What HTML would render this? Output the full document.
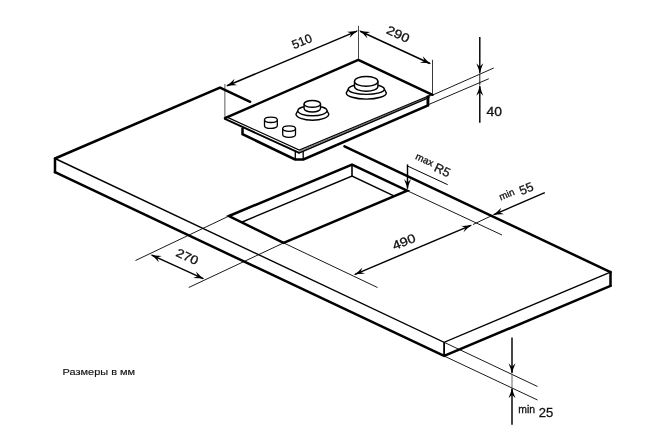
<!DOCTYPE html>
<html lang="ru">
<head>
<meta charset="utf-8">
<title>Размеры в мм</title>
<style>
html,body{margin:0;padding:0;background:#fff;}
body{width:666px;height:444px;overflow:hidden;}
svg{display:block;filter:grayscale(1);}
svg text{font-family:"Liberation Sans",sans-serif;fill:#111;stroke:#111;stroke-width:0.3px;}
svg text.cap{stroke-width:0.15px;}
</style>
</head>
<body>
<svg role="img" aria-label="Размеры в мм" width="666" height="444" viewBox="0 0 666 444">
<rect x="0" y="0" width="666" height="444" fill="#fff"/>
<!-- countertop -->
<line x1="224.80" y1="84.00" x2="224.80" y2="117.00" stroke="#999" stroke-width="1.6" stroke-linecap="butt"/>
<path d="M55.00,158.50 L220.00,87.50 L250.20,101.80" fill="none" stroke="#000" stroke-width="2.5" stroke-linejoin="miter" stroke-linecap="round"/>
<path d="M344.50,146.40 L610.50,272.10" fill="none" stroke="#000" stroke-width="2.5" stroke-linejoin="miter" stroke-linecap="round"/>
<path d="M55.00,158.50 L55.00,172.20" fill="none" stroke="#000" stroke-width="2.5" stroke-linejoin="miter" stroke-linecap="round"/>
<path d="M610.50,272.10 L610.50,285.80" fill="none" stroke="#000" stroke-width="2.5" stroke-linejoin="miter" stroke-linecap="round"/>
<path d="M55.00,172.20 L444.10,356.00 L610.50,285.80" fill="none" stroke="#000" stroke-width="2.5" stroke-linejoin="miter" stroke-linecap="round"/>
<path d="M55.00,158.50 L444.10,342.30 L610.50,272.10" fill="none" stroke="#000" stroke-width="1.4" stroke-linejoin="miter" stroke-linecap="butt"/>
<line x1="444.10" y1="342.30" x2="444.10" y2="356.00" stroke="#000" stroke-width="1.8" stroke-linecap="butt"/>
<!-- cutout -->
<path d="M229.00,216.00 L352.00,164.50 L407.20,190.70 L283.60,242.90 Z" fill="none" stroke="#000" stroke-width="2.5" stroke-linejoin="miter" stroke-linecap="butt"/>
<path d="M241.62,222.22 L352.00,176.00 L394.38,196.11" fill="none" stroke="#000" stroke-width="1.5" stroke-linejoin="miter" stroke-linecap="butt"/>
<line x1="352.00" y1="164.50" x2="352.00" y2="176.00" stroke="#000" stroke-width="1.6" stroke-linecap="butt"/>
<!-- dimensions on countertop -->
<line x1="229.00" y1="216.00" x2="135.50" y2="260.50" stroke="#000" stroke-width="0.9" stroke-linecap="butt"/>
<line x1="283.60" y1="242.90" x2="188.75" y2="287.50" stroke="#000" stroke-width="0.9" stroke-linecap="butt"/>
<line x1="283.60" y1="242.90" x2="377.50" y2="287.50" stroke="#000" stroke-width="0.9" stroke-linecap="butt"/>
<line x1="407.20" y1="190.70" x2="502.00" y2="235.00" stroke="#000" stroke-width="0.9" stroke-linecap="butt"/>
<line x1="151.76" y1="255.12" x2="203.24" y2="278.68" stroke="#000" stroke-width="1.45" stroke-linecap="butt"/>
<path d="M0,0 Q-4.95,-0.70 -11.00,-3.50 L-7.50,0 L-11.00,3.50 Q-4.95,0.70 0,0 Z" fill="#000" stroke="none" transform="translate(150.40 254.50) rotate(-155.41)"/>
<path d="M0,0 Q-4.95,-0.70 -11.00,-3.50 L-7.50,0 L-11.00,3.50 Q-4.95,0.70 0,0 Z" fill="#000" stroke="none" transform="translate(204.60 279.30) rotate(24.59)"/>
<text font-size="12.3" text-anchor="middle" transform="translate(185.50 260.50) rotate(24.5) scale(1.13 1)">270</text>
<line x1="354.98" y1="274.32" x2="470.92" y2="225.38" stroke="#000" stroke-width="1.45" stroke-linecap="butt"/>
<path d="M0,0 Q-4.95,-0.70 -11.00,-3.50 L-7.50,0 L-11.00,3.50 Q-4.95,0.70 0,0 Z" fill="#000" stroke="none" transform="translate(353.60 274.90) rotate(157.12)"/>
<path d="M0,0 Q-4.95,-0.70 -11.00,-3.50 L-7.50,0 L-11.00,3.50 Q-4.95,0.70 0,0 Z" fill="#000" stroke="none" transform="translate(472.30 224.80) rotate(-22.88)"/>
<text font-size="12.3" text-anchor="middle" transform="translate(405.50 245.70) rotate(-22.5) scale(1.17 1)">490</text>
<line x1="544.80" y1="192.60" x2="493.88" y2="214.70" stroke="#000" stroke-width="1.45" stroke-linecap="butt"/>
<path d="M0,0 Q-4.95,-0.70 -11.00,-3.50 L-7.50,0 L-11.00,3.50 Q-4.95,0.70 0,0 Z" fill="#000" stroke="none" transform="translate(492.50 215.30) rotate(156.99)"/>
<line x1="492.50" y1="215.30" x2="473.00" y2="224.50" stroke="#000" stroke-width="0.9" stroke-linecap="butt"/>
<line x1="407.50" y1="164.40" x2="407.50" y2="188.50" stroke="#000" stroke-width="1.45" stroke-linecap="butt"/>
<path d="M0,0 Q-4.95,-0.70 -11.00,-3.50 L-7.50,0 L-11.00,3.50 Q-4.95,0.70 0,0 Z" fill="#000" stroke="none" transform="translate(407.50 190.00) rotate(90.00)"/>
<line x1="407.50" y1="166.00" x2="447.70" y2="184.70" stroke="#000" stroke-width="1.0" stroke-linecap="butt"/>
<!-- hob -->
<path d="M242.50,128.00 L242.50,134.20 L295.00,159.50 L303.40,159.50 L428.00,105.40 L428.00,96.00" fill="none" stroke="#000" stroke-width="2.5" stroke-linejoin="miter" stroke-linecap="butt"/>
<line x1="295.30" y1="151.30" x2="295.30" y2="159.00" stroke="#000" stroke-width="1.3" stroke-linecap="butt"/>
<line x1="303.20" y1="151.30" x2="303.20" y2="159.00" stroke="#000" stroke-width="1.3" stroke-linecap="butt"/>
<path d="M225.00,118.20 L358.30,59.80 L432.50,94.80 L299.30,152.90 Z" fill="#fff" stroke="#000" stroke-width="0" stroke-linejoin="miter" stroke-linecap="butt"/>
<path d="M224.40,118.60 L299.20,152.90" fill="none" stroke="#000" stroke-width="1.9" stroke-linejoin="miter" stroke-linecap="butt"/>
<path d="M298.50,152.60 L299.20,152.90 L429.50,97.40" fill="none" stroke="#000" stroke-width="1.5" stroke-linejoin="miter" stroke-linecap="butt"/>
<line x1="299.30" y1="151.50" x2="430.80" y2="95.90" stroke="#333" stroke-width="0.7" stroke-linecap="butt"/>
<path d="M226.50,116.90 L299.30,150.00 L432.00,94.50" fill="none" stroke="#000" stroke-width="1.2" stroke-linejoin="miter" stroke-linecap="butt"/>
<path d="M225.00,118.20 L358.30,59.80 L432.50,94.80" fill="none" stroke="#000" stroke-width="2.5" stroke-linejoin="miter" stroke-linecap="round"/>
<line x1="427.90" y1="95.50" x2="427.90" y2="105.00" stroke="#000" stroke-width="2.5" stroke-linecap="butt"/>
<line x1="358.50" y1="25.80" x2="358.50" y2="59.00" stroke="#333" stroke-width="0.9" stroke-linecap="butt"/>
<line x1="432.50" y1="59.80" x2="432.50" y2="94.00" stroke="#222" stroke-width="0.9" stroke-linecap="butt"/>
<line x1="227.18" y1="85.72" x2="356.92" y2="31.18" stroke="#000" stroke-width="1.45" stroke-linecap="butt"/>
<path d="M0,0 Q-4.95,-0.70 -11.00,-3.50 L-7.50,0 L-11.00,3.50 Q-4.95,0.70 0,0 Z" fill="#000" stroke="none" transform="translate(225.80 86.30) rotate(157.20)"/>
<path d="M0,0 Q-4.95,-0.70 -11.00,-3.50 L-7.50,0 L-11.00,3.50 Q-4.95,0.70 0,0 Z" fill="#000" stroke="none" transform="translate(358.30 30.60) rotate(-22.80)"/>
<line x1="360.26" y1="31.23" x2="429.94" y2="63.47" stroke="#000" stroke-width="1.45" stroke-linecap="butt"/>
<path d="M0,0 Q-4.95,-0.70 -11.00,-3.50 L-7.50,0 L-11.00,3.50 Q-4.95,0.70 0,0 Z" fill="#000" stroke="none" transform="translate(358.90 30.60) rotate(-155.17)"/>
<path d="M0,0 Q-4.95,-0.70 -11.00,-3.50 L-7.50,0 L-11.00,3.50 Q-4.95,0.70 0,0 Z" fill="#000" stroke="none" transform="translate(431.30 64.10) rotate(24.83)"/>
<text font-size="12.3" text-anchor="middle" transform="translate(303.50 45.30) rotate(-22.5) scale(1.0 1)">510</text>
<text font-size="12.3" text-anchor="middle" transform="translate(396.30 38.00) rotate(24.5) scale(1.16 1)">290</text>
<line x1="432.50" y1="95.10" x2="493.75" y2="68.00" stroke="#000" stroke-width="0.9" stroke-linecap="butt"/>
<line x1="428.75" y1="104.50" x2="488.75" y2="78.75" stroke="#000" stroke-width="0.9" stroke-linecap="butt"/>
<line x1="479.80" y1="37.00" x2="479.80" y2="72.70" stroke="#000" stroke-width="1.45" stroke-linecap="butt"/>
<path d="M0,0 Q-4.95,-0.70 -11.00,-3.50 L-7.50,0 L-11.00,3.50 Q-4.95,0.70 0,0 Z" fill="#000" stroke="none" transform="translate(479.80 74.20) rotate(90.00)"/>
<line x1="479.80" y1="122.70" x2="479.80" y2="86.20" stroke="#000" stroke-width="1.45" stroke-linecap="butt"/>
<path d="M0,0 Q-4.95,-0.70 -11.00,-3.50 L-7.50,0 L-11.00,3.50 Q-4.95,0.70 0,0 Z" fill="#000" stroke="none" transform="translate(479.80 84.70) rotate(-90.00)"/>
<line x1="479.80" y1="74.00" x2="479.80" y2="85.00" stroke="#000" stroke-width="0.9" stroke-linecap="butt"/>
<text font-size="12.3" text-anchor="middle" transform="translate(494.20 115.70) rotate(0) scale(1.13 1)">40</text>
<!-- burners and knobs -->
<path d="M348.30,89.20 L346.30,92.90 A20.0,6.2 0 0 0 386.30,92.90 L384.30,89.20 Z" fill="#fff" stroke="#000" stroke-width="1.4" stroke-linejoin="round"/>
<ellipse cx="366.30" cy="89.20" rx="18.0" ry="5.2" fill="#fff" stroke="#000" stroke-width="1.4"/>
<path d="M354.50,81.40 L354.50,86.40 A11.7,4.9 0 0 0 377.90,86.40 L377.90,81.40 Z" fill="#fff" stroke="#000" stroke-width="1.4" stroke-linejoin="round"/>
<ellipse cx="366.20" cy="81.40" rx="11.7" ry="4.9" fill="#fff" stroke="#000" stroke-width="1.4"/>
<path d="M297.80,110.80 L296.00,114.00 A16.4,6.2 0 0 0 328.80,114.00 L327.00,110.80 Z" fill="#fff" stroke="#000" stroke-width="1.4" stroke-linejoin="round"/>
<ellipse cx="312.40" cy="110.80" rx="14.6" ry="5.0" fill="#fff" stroke="#000" stroke-width="1.4"/>
<path d="M304.10,103.90 L304.10,108.60 A8.2,3.4 0 0 0 320.50,108.60 L320.50,103.90 Z" fill="#fff" stroke="#000" stroke-width="1.4" stroke-linejoin="round"/>
<ellipse cx="312.30" cy="103.90" rx="8.2" ry="3.4" fill="#fff" stroke="#000" stroke-width="1.4"/>
<path d="M264.50,119.80 L264.50,125.70 A6.4,2.7 0 0 0 277.30,125.70 L277.30,119.80 Z" fill="#fff" stroke="#000" stroke-width="1.3" stroke-linejoin="round"/>
<ellipse cx="270.90" cy="119.80" rx="6.4" ry="2.7" fill="#fff" stroke="#000" stroke-width="1.3"/>
<path d="M282.70,128.60 L282.70,134.60 A6.4,2.7 0 0 0 295.50,134.60 L295.50,128.60 Z" fill="#fff" stroke="#000" stroke-width="1.3" stroke-linejoin="round"/>
<ellipse cx="289.10" cy="128.60" rx="6.4" ry="2.7" fill="#fff" stroke="#000" stroke-width="1.3"/>
<!-- thickness dimension -->
<line x1="444.10" y1="342.30" x2="537.50" y2="386.50" stroke="#000" stroke-width="0.9" stroke-linecap="butt"/>
<line x1="444.10" y1="356.00" x2="537.50" y2="400.00" stroke="#000" stroke-width="0.9" stroke-linecap="butt"/>
<line x1="512.00" y1="337.50" x2="512.00" y2="372.70" stroke="#000" stroke-width="1.45" stroke-linecap="butt"/>
<path d="M0,0 Q-4.95,-0.70 -11.00,-3.50 L-7.50,0 L-11.00,3.50 Q-4.95,0.70 0,0 Z" fill="#000" stroke="none" transform="translate(512.00 374.20) rotate(90.00)"/>
<line x1="512.00" y1="374.00" x2="512.00" y2="387.50" stroke="#555" stroke-width="0.9" stroke-linecap="butt"/>
<line x1="512.00" y1="424.70" x2="512.00" y2="388.70" stroke="#000" stroke-width="1.45" stroke-linecap="butt"/>
<path d="M0,0 Q-4.95,-0.70 -11.00,-3.50 L-7.50,0 L-11.00,3.50 Q-4.95,0.70 0,0 Z" fill="#000" stroke="none" transform="translate(512.00 387.20) rotate(-90.00)"/>
<g transform="translate(518.30 416.80) rotate(0)"><text x="0" y="-3.6" font-size="10.4">min</text><text x="20.5" y="0" font-size="13">25</text></g>
<!-- labels -->
<g transform="translate(502.00 203.40) rotate(-22.5)"><text x="0" y="-3.2" font-size="9.8">min</text><text x="21.2" y="0" font-size="12.6">55</text></g>
<g transform="translate(413.60 161.40) rotate(25)"><text x="0" y="-3.0" font-size="9.8">max</text><text x="21.8" y="0" font-size="12.6">R5</text></g>
<text class="cap" font-size="9.8" text-anchor="start" transform="translate(62.60 374.90) rotate(0) scale(1.12 1)">Размеры в мм</text>
</svg>
</body>
</html>
